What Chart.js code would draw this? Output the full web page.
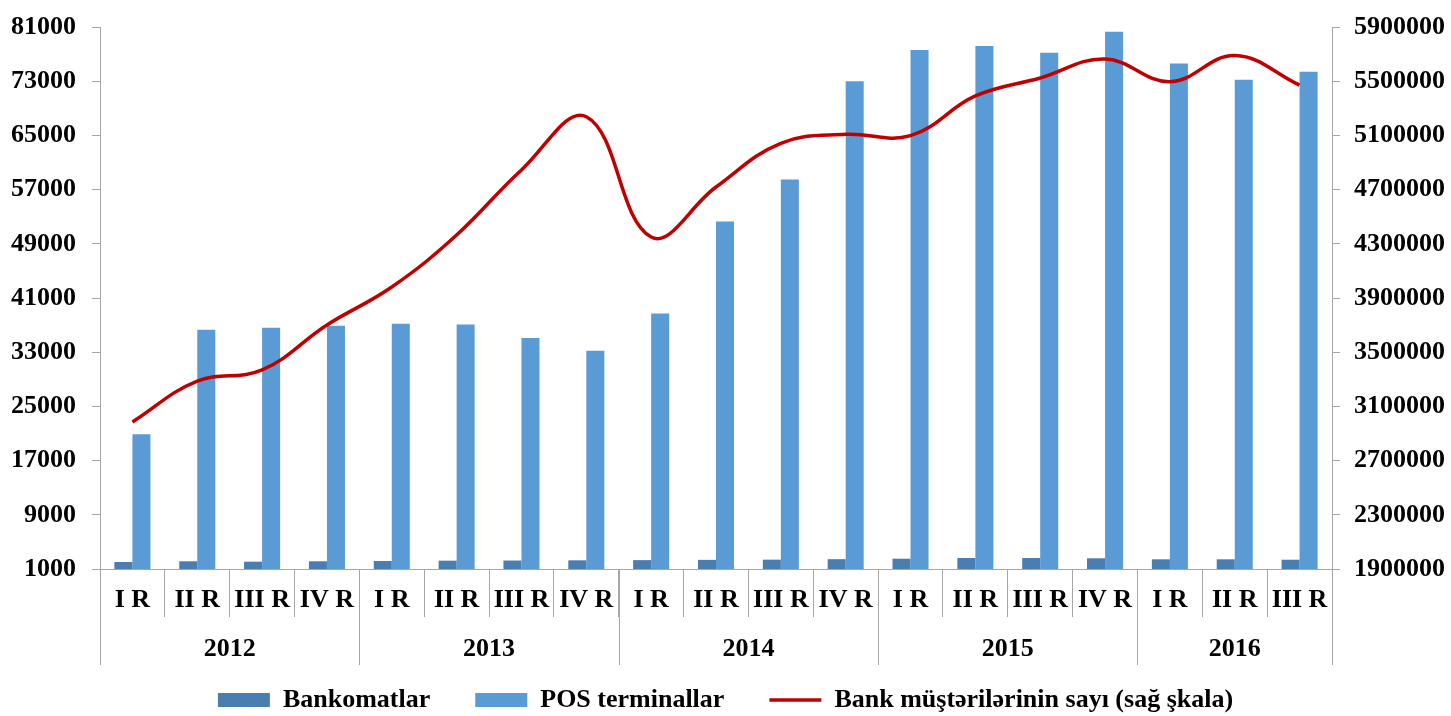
<!DOCTYPE html>
<html>
<head>
<meta charset="utf-8">
<script src="https://cdn.jsdelivr.net/npm/chart.js@4"></script>
<style>
  html, body { margin: 0; padding: 0; background: #fff; }
  #wrap { width: 1451px; height: 716px; }
</style>
</head>
<body>
<div id="wrap"><canvas id="chart" width="1451" height="716"></canvas></div>
<script>
const quarters = ["I R", "II R", "III R", "IV R", "I R", "II R", "III R", "IV R", "I R", "II R", "III R", "IV R", "I R", "II R", "III R", "IV R", "I R", "II R", "III R"]
const years = ["2012", "2013", "2014", "2015", "2016"]
const quartersPerYear = [4, 4, 4, 4, 3]

const bankomatlar = [2030, 2140, 2080, 2140, 2180, 2230, 2250, 2280, 2310, 2350, 2380, 2450, 2520, 2620, 2620, 2580, 2430, 2430, 2370]
const posTerminallar = [20900, 36300, 36600, 36900, 37200, 37100, 35100, 33200, 38700, 52300, 58500, 73000, 77600, 78200, 77200, 80300, 75600, 73200, 74400]
const musteriler = [2985000, 3287000, 3369000, 3701000, 3981000, 4365000, 4845000, 5238000, 4350000, 4719000, 5042000, 5108000, 5098000, 5391000, 5524000, 5664000, 5496000, 5690000, 5471000]

const fontFamily = "'Liberation Serif', 'Times New Roman', serif"
const font = { family: fontFamily, weight: "bold", size: 26 }
const axisColor = "#a6a6a6"

// year row under the quarter labels, with the long separators
const yearGroups = {
    id: "yearGroups",
    afterDraw(chart) {
        const ctx = chart.ctx
        const x = chart.scales.x
        const area = chart.chartArea
        const half = (x.getPixelForValue(1) - x.getPixelForValue(0)) / 2
        ctx.save()
        ctx.strokeStyle = axisColor
        ctx.lineWidth = 1
        ctx.fillStyle = "#000"
        ctx.font = "bold 26px " + fontFamily
        ctx.textAlign = "center"
        ctx.textBaseline = "middle"
        var start = 0
        quartersPerYear.forEach((n, i) => {
            const left = x.getPixelForValue(start) - half
            const right = x.getPixelForValue(start + n - 1) + half
            ctx.beginPath()
            ctx.moveTo(Math.round(left) + 0.5, area.bottom)
            ctx.lineTo(Math.round(left) + 0.5, area.bottom + 96)
            ctx.stroke()
            if (i === quartersPerYear.length - 1) {
                ctx.beginPath()
                ctx.moveTo(Math.round(right) + 0.5, area.bottom)
                ctx.lineTo(Math.round(right) + 0.5, area.bottom + 96)
                ctx.stroke()
            }
            ctx.fillText(years[i], (left + right) / 2, area.bottom + 80)
            start += n
        })
        ctx.restore()
    }
}

const data = {
    labels: quarters,
    datasets: [
        {
            type: "line",
            label: "Bank müştərilərinin sayı (sağ şkala)",
            data: musteriler,
            yAxisID: "y1",
            borderColor: "#c00000",
            borderWidth: 3.5,
            pointRadius: 0,
            tension: 0.4,
            order: 0
        },
        {
            type: "bar",
            label: "Bankomatlar",
            data: bankomatlar,
            yAxisID: "y",
            backgroundColor: "#4a7eb0",
            order: 1
        },
        {
            type: "bar",
            label: "POS terminallar",
            data: posTerminallar,
            yAxisID: "y",
            backgroundColor: "#5b9bd5",
            order: 1
        }
    ]
}

const legendOrder = [1, 2, 0]

const fitSide = (width) => (s) => {
    s.width = width
    s.paddingTop = 0
    s.paddingBottom = 0
}

new Chart(document.getElementById("chart"), {
    data: data,
    plugins: [yearGroups],
    options: {
        responsive: false,
        animation: false,
        datasets: {
            bar: { barPercentage: 1, categoryPercentage: 0.556 }
        },
        layout: { padding: { top: 27, bottom: 0, left: 0, right: 0 } },
        plugins: {
            title: { display: false },
            tooltip: { enabled: false },
            legend: {
                position: "bottom",
                maxHeight: 74,
                labels: {
                    usePointStyle: true,
                    pointStyleWidth: 52,
                    boxHeight: 14,
                    padding: 45,
                    color: "#000",
                    font: { family: fontFamily, weight: "bold", size: 26 },
                    generateLabels: (chart) => legendOrder.map((i) => {
                        const ds = chart.data.datasets[i]
                        const isLine = ds.type === "line"
                        return {
                            text: ds.label,
                            fillStyle: isLine ? ds.borderColor : ds.backgroundColor,
                            strokeStyle: isLine ? ds.borderColor : ds.backgroundColor,
                            lineWidth: isLine ? 3.5 : 0,
                            pointStyle: isLine ? "line" : "rect",
                            fontColor: "#000",
                            hidden: false,
                            datasetIndex: i
                        }
                    })
                }
            }
        },
        scales: {
            x: {
                grid: {
                    offset: true,
                    drawOnChartArea: false,
                    tickLength: 48,
                    color: axisColor
                },
                border: { color: axisColor },
                ticks: {
                    color: "#000",
                    font: font,
                    padding: -32,
                    maxRotation: 0,
                    autoSkip: false
                },
                afterFit: (s) => { s.height = 73 }
            },
            y: {
                position: "left",
                min: 1000,
                max: 81000,
                grid: { drawOnChartArea: false, tickLength: 8, color: axisColor },
                border: { color: axisColor },
                ticks: {
                    stepSize: 8000,
                    color: "#000",
                    font: font,
                    padding: 16,
                    callback: (v) => String(v)
                },
                afterFit: fitSide(100)
            },
            y1: {
                position: "right",
                min: 1900000,
                max: 5900000,
                grid: { drawOnChartArea: false, tickLength: 8, color: axisColor },
                border: { color: axisColor },
                ticks: {
                    stepSize: 400000,
                    color: "#000",
                    font: font,
                    padding: 14,
                    callback: (v) => String(v)
                },
                afterFit: fitSide(119)
            }
        }
    }
})
</script>
</body>
</html>
